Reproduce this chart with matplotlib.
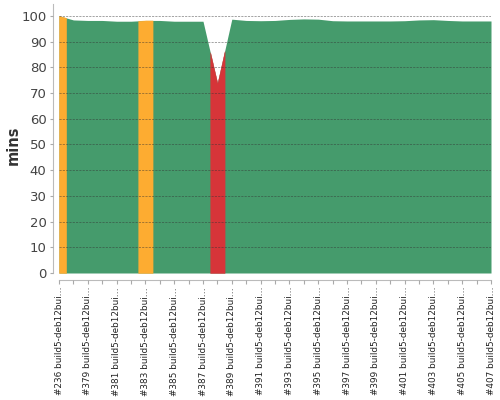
import numpy as np
import matplotlib
matplotlib.use("Agg")
import matplotlib.pyplot as plt

builds = ["#236"] + ["#%d" % n for n in range(378, 408)]
durations = [100.0, 98.4, 98.2, 98.2, 97.9, 97.9, 98.2, 98.2, 97.9, 97.9,
             97.9, 73.8, 98.7, 98.2, 98.1, 98.2, 98.6, 98.8, 98.7, 98.1,
             98.0, 98.0, 98.0, 98.0, 98.1, 98.4, 98.5, 98.2, 98.0, 98.0, 98.0]
status = ["U", "S", "S", "S", "S", "S", "U", "S", "S", "S",
          "S", "F", "S", "S", "S", "S", "S", "S", "S", "S",
          "S", "S", "S", "S", "S", "S", "S", "S", "S", "S", "S"]
yticks = list(range(0, 101, 10))
label_suffix = " build5-deb12bui\u2026"

colors = {"S": "#459b6c", "U": "#fdac31", "F": "#d63539"}

fig = plt.figure(figsize=(5, 4), dpi=100)
W, H = 500, 400
x0, x1, ytop, ybot = 59, 491, 4, 273
ax = fig.add_axes([x0 / W, 1 - ybot / H, (x1 - x0) / W, (ybot - ytop) / H])

n = len(durations)
xs = np.arange(n)
vals = np.array(durations)
# base area in success colour
ax.fill_between(xs, 0, vals, color=colors["S"], linewidth=0, zorder=1)
for i in range(n):
    if status[i] == "S":
        continue
    a = max(0, i - 0.5)
    b = min(n - 1, i + 0.5)
    bx = np.array([a, i, b])
    by = np.interp(bx, xs, vals)
    ax.fill_between(bx, 0, by, facecolor=colors[status[i]], edgecolor=colors[status[i]],
                    linewidth=0.3, zorder=1.5)

ax.set_xlim(0, n - 1)
ax.set_ylim(0, 104.6)
ax.set_yticks(yticks)
ax.set_yticklabels([str(t) for t in yticks])
ax.set_xticks(xs)
ax.set_xticklabels([b + label_suffix if i % 2 == 0 else "" for i, b in enumerate(builds)])
ax.tick_params(axis="x", length=3, color="#aaaaaa", pad=2, labelrotation=90,
               labelsize=6.4, labelcolor="#222222")
ax.tick_params(axis="y", length=2, color="#aaaaaa", labelsize=9.5, labelcolor="#444444", pad=3)
for lbl in ax.get_xticklabels():
    lbl.set_verticalalignment("top")

ax.grid(axis="y", color="#333333", alpha=0.45, linestyle=(0, (2.2, 1.2)), linewidth=0.7)
ax.grid(axis="x", visible=False)
ax.set_axisbelow(False)

for s in ["top", "right"]:
    ax.spines[s].set_visible(False)
ax.spines["left"].set_position(("outward", 4))
ax.spines["bottom"].set_position(("outward", 5))
ax.spines["left"].set_color("#bbbbbb")
ax.spines["bottom"].set_color("#bbbbbb")

fig.text(13 / W, 1 - 145 / H, "mins", rotation=90, ha="center", va="center",
         fontsize=10.5, fontweight="bold", color="#333333")

fig.savefig("out.png", dpi=100)
